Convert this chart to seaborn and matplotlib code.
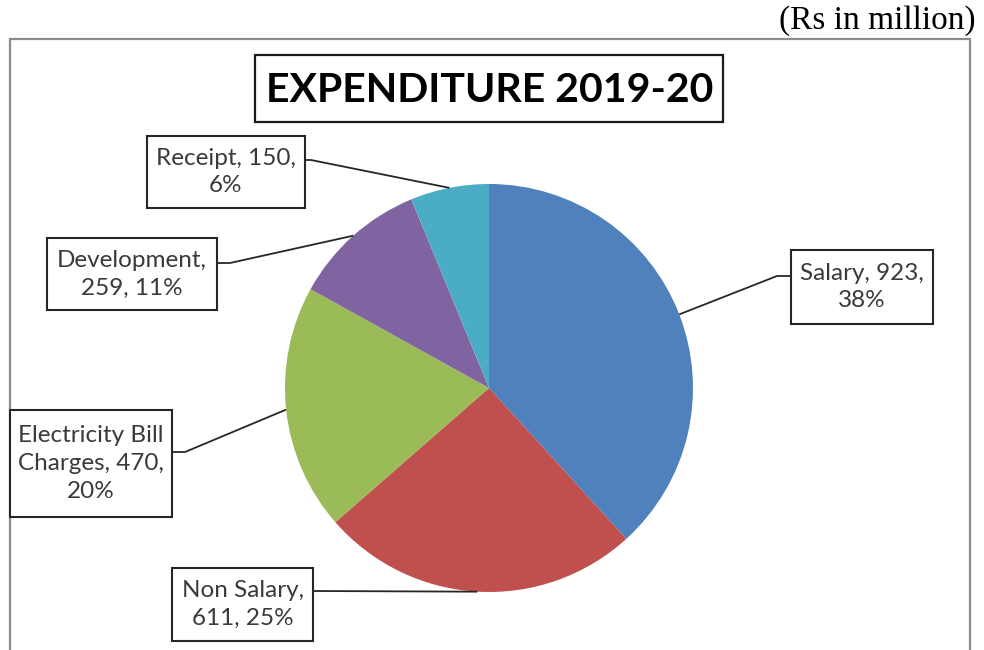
import numpy as np
import matplotlib
matplotlib.use("Agg")
import matplotlib.pyplot as plt
from matplotlib.patches import Rectangle
import seaborn as sns

# Expenditure breakdown, 2019-20 (Rs in million)
categories = ["Salary", "Non Salary", "Electricity Bill\nCharges", "Development", "Receipt"]
values = [923, 611, 470, 259, 150]
percent_labels = ["38%", "25%", "20%", "11%", "6%"]
label_texts = [
    "Salary, 923,\n38%",
    "Non Salary,\n611, 25%",
    "Electricity Bill\nCharges, 470,\n20%",
    "Development,\n259, 11%",
    "Receipt, 150,\n6%",
]
colors = ["#4F81BD", "#C0504D", "#9BBB59", "#8064A2", "#4BACC6"]

sns.set_theme(style="white")
plt.rcParams["font.family"] = ["Lato", "DejaVu Sans"]

W, H = 984, 650
fig = plt.figure(figsize=(W / 100, H / 100), dpi=100)
ax = fig.add_axes([0, 0, 1, 1])


def fy(y):
    """Convert a top-down pixel row to the axis' upward y coordinate."""
    return H - y


cx, cy, r = 489, fy(388), 204
palette = sns.color_palette(colors)
wedges, _ = ax.pie(values, colors=palette, startangle=90, counterclock=False,
                   center=(cx, cy), radius=r, wedgeprops=dict(linewidth=0))
ax.set_xlim(0, W)
ax.set_ylim(0, H)
ax.set_aspect("equal")
ax.axis("off")

# Outer chart frame
ax.add_patch(Rectangle((9.5, fy(700)), 960.5, 700 - 39, fill=False,
                       edgecolor="#8c8c8c", linewidth=1.6, zorder=1))

# Unit note
ax.text(976, fy(21), "(Rs in million)", ha="right", va="center",
        fontsize=24, family=["Liberation Serif", "DejaVu Serif"], color="black")

# Title in a box
ax.add_patch(Rectangle((255, fy(122)), 468, 67, fill=False,
                       edgecolor="#1a1a1a", linewidth=1.6, zorder=3))
ax.text(490, fy(90), "EXPENDITURE 2019-20", ha="center", va="center",
        fontsize=29.5, fontweight="bold", color="black", zorder=4)

# Label boxes: (left, top, right, bottom) in pixels and leader elbow offset
boxes = [
    (791, 250, 933, 324, "left", 276),
    (172, 568, 313, 641, "right", 591),
    (10, 410, 172, 517, "right", 452),
    (47, 238, 217, 310, "right", 263),
    (147, 136, 305, 208, "right", 160),
]
elbows = [14, 0, 13, 13, 6]

# Leader target: wedge mid-angle on the pie edge
for wedge, text, box, elb in zip(wedges, label_texts, boxes, elbows):
    mid = np.deg2rad((wedge.theta1 + wedge.theta2) / 2)
    px, py = cx + r * np.cos(mid), cy + r * np.sin(mid)
    left, top, right, bottom, side, ly = box
    ax.add_patch(Rectangle((left, fy(bottom)), right - left, bottom - top,
                           facecolor="white", edgecolor="#262626",
                           linewidth=1.5, zorder=3))
    ax.text((left + right) / 2, fy((top + bottom) / 2), text, ha="center",
            va="center", fontsize=17.5, color="#3a3a3a", linespacing=1.4,
            zorder=4)
    if side == "left":
        sx = left
        ex = left - elb
    else:
        sx = right
        ex = right + elb
    ax.plot([sx, ex, px], [fy(ly), fy(ly), py], color="#262626",
            linewidth=1.3, zorder=2, solid_capstyle="butt")

fig.savefig("out.png", dpi=100)
